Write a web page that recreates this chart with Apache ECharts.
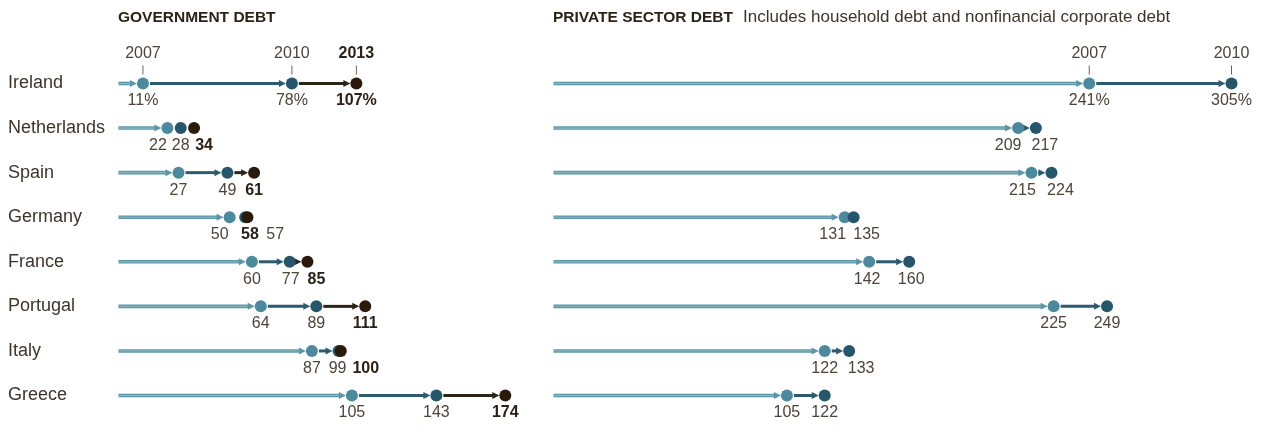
<!DOCTYPE html>
<html>
<head>
<meta charset="utf-8">
<script src="https://cdn.jsdelivr.net/npm/echarts@6/dist/echarts.min.js"></script>
<style>
  html,body{margin:0;padding:0;background:#fff;}
  #chart{width:1264px;height:443px;}
</style>
</head>
<body>
<div id="chart"></div>
<script>
// ---------- DATA ----------
const countries = ['Ireland','Netherlands','Spain','Germany','France','Portugal','Italy','Greece'];
const govYears = ['2007','2010','2013'];
const gov2007 = [11, 22, 27, 50, 60, 64, 87, 105];
const gov2010 = [78, 28, 49, 57, 77, 89, 99, 143];
const gov2013 = [107, 34, 61, 58, 85, 111, 100, 174];
const privYears = ['2007','2010'];
const priv2007 = [241, 209, 215, 131, 142, 225, 122, 105];
const priv2010 = [305, 217, 224, 135, 160, 249, 133, 122];

// ---------- LAYOUT (label nudges to avoid overlaps, in px) ----------
const govNudge = {
  1: [-9.5, 0, 10],
  3: [-10, 30, 2.5],
  4: [0, 1, 9],
  6: [0, -1, 25]
};
const privNudge = {
  1: [-10, 9],
  2: [-9, 9],
  3: [-12, 13],
  4: [-2, 2],
  6: [0, 12]
};

const FONT = '"Liberation Sans", Arial, Helvetica, sans-serif';
const R = 6;
const AH = 7, AW = 7;
const segColors = ['#5b97a9', '#2c5a6f', '#2e2416'];
const dotColors = ['#4b8a9d', '#25566b', '#2a1a0a'];
const txt = '#4d4439', txtBold = '#2b2117';

function makeRender(years, nudges, lastBold) {
  return function (params, api) {
    const row = api.value(0);
    const n = years.length;
    const vals = [];
    for (let k = 0; k < n; k++) vals.push(api.value(k + 1));
    const p0 = api.coord([0, row]);
    const y = p0[1];
    const xs = vals.map(v => api.coord([v, row])[0]);
    const children = [];
    // segments
    for (let k = 0; k < n; k++) {
      const start = k === 0 ? p0[0] : xs[k - 1] + R + 1;
      const tip = xs[k] - R;
      const base = tip - AH;
      if (base > start) {
        if (k === 0) {
          children.push({type:'line', shape:{x1:start, y1:y, x2:base + 1, y2:y}, style:{stroke:segColors[0], lineWidth:3.6}});
          children.push({type:'line', shape:{x1:start, y1:y, x2:base, y2:y}, style:{stroke:'#8dbac7', lineWidth:1}});
        } else {
          children.push({type:'line', shape:{x1:start, y1:y, x2:base + 1, y2:y}, style:{stroke:segColors[k], lineWidth:3}});
        }
      }
      if (tip - start >= 4) {
        children.push({type:'polygon', shape:{points:[[tip, y], [base, y - AW / 2], [base, y + AW / 2]]}, style:{fill:segColors[k]}});
      }
    }
    // dots
    for (let k = 0; k < n; k++) {
      children.push({type:'circle', shape:{cx:xs[k], cy:y, r:R}, style:{fill:dotColors[k]}});
    }
    // value labels
    const nud = nudges[row] || [];
    for (let k = 0; k < n; k++) {
      const bold = lastBold && k === n - 1;
      children.push({
        type:'text', x: xs[k] + (nud[k] || 0), y: y + 17.5,
        style:{text: String(vals[k]) + (row === 0 ? '%' : ''), fill: bold ? txtBold : txt,
          font: (bold ? 'bold ' : '') + '16px ' + FONT, align:'center', verticalAlign:'middle'}
      });
    }
    // year headers on first row
    if (row === 0) {
      for (let k = 0; k < n; k++) {
        const bold = lastBold && k === n - 1;
        children.push({type:'line', shape:{x1:xs[k], y1:y - 18, x2:xs[k], y2:y - 9}, style:{stroke:'#6b6257', lineWidth:1}});
        children.push({
          type:'text', x: xs[k], y: y - 30,
          style:{text: years[k], fill: bold ? txtBold : txt,
            font: (bold ? 'bold ' : '') + '16px ' + FONT, align:'center', verticalAlign:'middle'}
        });
      }
    }
    return {type:'group', children};
  };
}

const govData = countries.map((c, i) => [i, gov2007[i], gov2010[i], gov2013[i]]);
const privData = countries.map((c, i) => [i, priv2007[i], priv2010[i]]);

const SCALE = 2.223;
const chart = echarts.init(document.getElementById('chart'), null, {renderer:'canvas'});
chart.setOption({
  animation: false,
  backgroundColor: '#fff',
  title: [
    {text:'GOVERNMENT DEBT', left:118, top:10, padding:0,
     textStyle:{fontFamily:FONT, fontWeight:'bold', fontSize:15.5, color:'#2b2319'}},
    {text:'{b|PRIVATE SECTOR DEBT}{n|Includes household debt and nonfinancial corporate debt}', left:553, top:9, padding:0,
     textStyle:{fontWeight:'normal', rich:{
       b:{fontFamily:FONT, fontWeight:'bold', fontSize:15.5, color:'#2b2319'},
       n:{fontFamily:FONT, fontWeight:'normal', fontSize:17, color:'#3d352b', padding:[0,0,0,10]}
     }}}
  ],
  grid: [
    {left:118.5, top:61.2, width:200 * SCALE, height:356.6},
    {left:553.5, top:61.2, width:310 * SCALE, height:356.6}
  ],
  xAxis: [
    {type:'value', gridIndex:0, min:0, max:200, show:false},
    {type:'value', gridIndex:1, min:0, max:310, show:false}
  ],
  yAxis: [
    {type:'category', gridIndex:0, data:countries, inverse:true,
     axisLine:{show:false}, axisTick:{show:false}, splitLine:{show:false},
     axisLabel:{show:true, align:'left', margin:110.5, fontFamily:FONT, fontSize:18, color:'#3d352b'}},
    {type:'category', gridIndex:1, data:countries, inverse:true, show:false}
  ],
  series: [
    {type:'custom', xAxisIndex:0, yAxisIndex:0, data:govData, clip:false,
     encode:{x:[1,2,3], y:0}, renderItem: makeRender(govYears, govNudge, true)},
    {type:'custom', xAxisIndex:1, yAxisIndex:1, data:privData, clip:false,
     encode:{x:[1,2], y:0}, renderItem: makeRender(privYears, privNudge, false)}
  ]
});
</script>
</body>
</html>
